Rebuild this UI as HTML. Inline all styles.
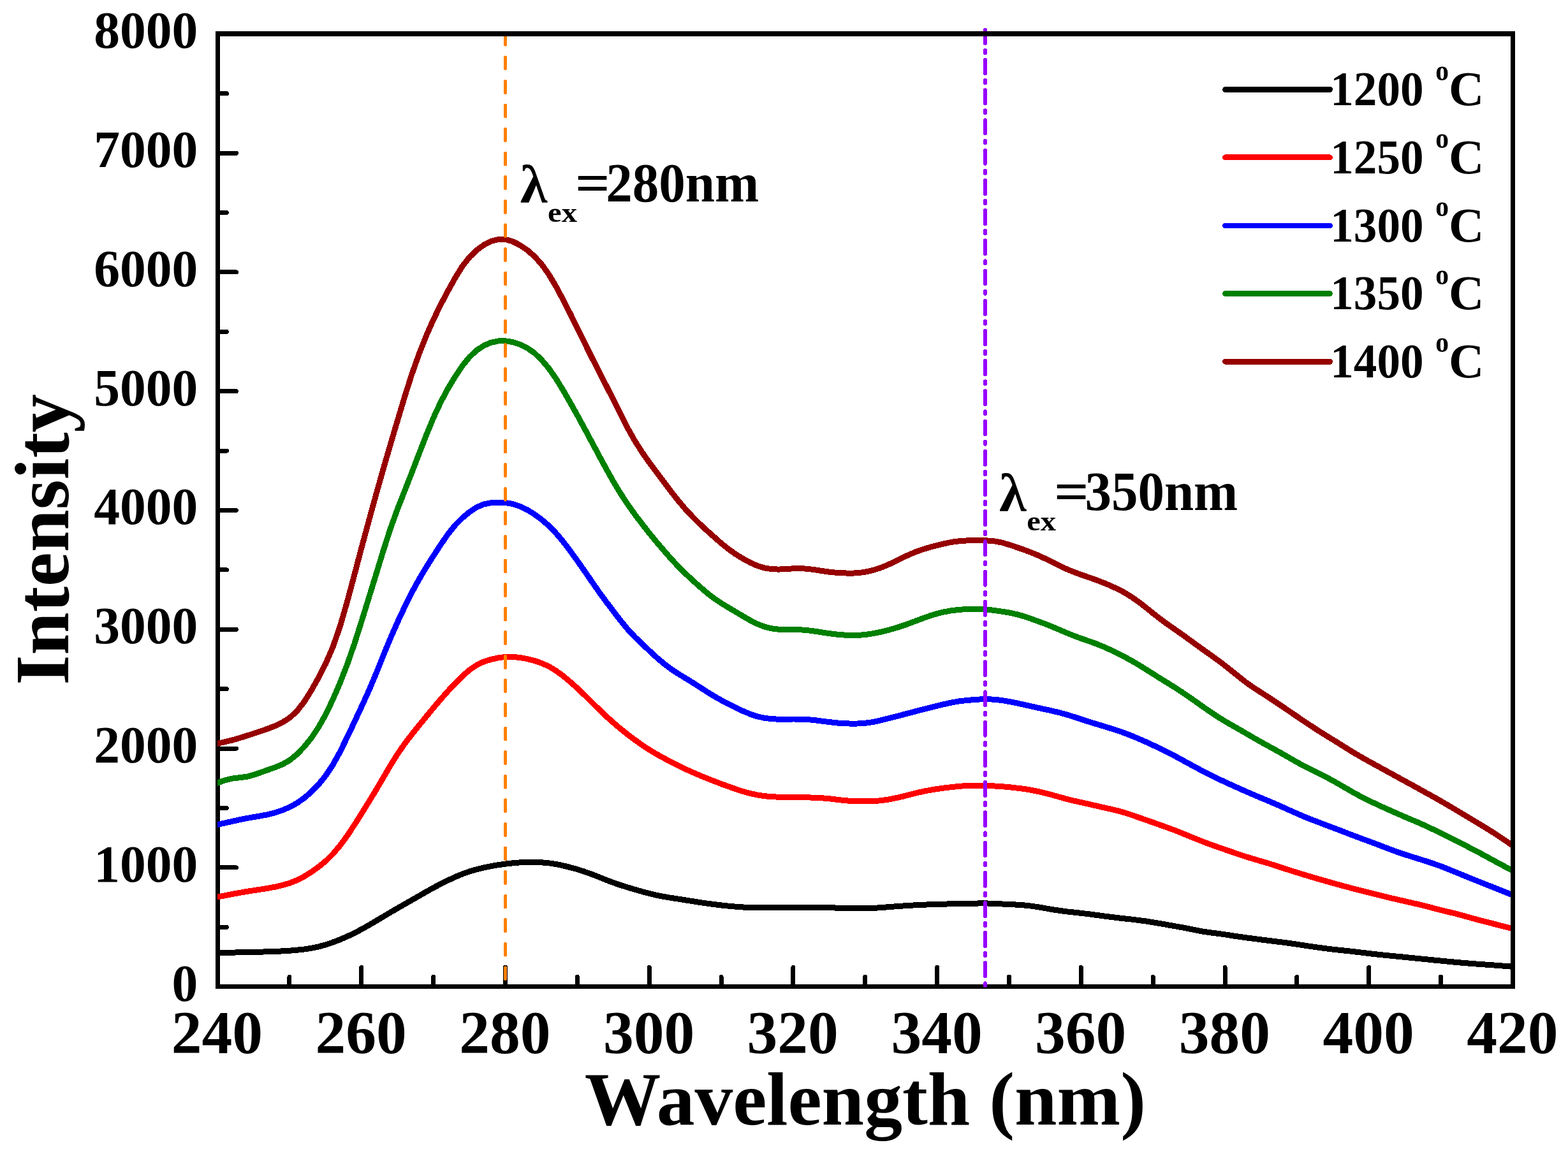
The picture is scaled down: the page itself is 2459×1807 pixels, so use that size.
<!DOCTYPE html>
<html lang="en"><head><meta charset="utf-8"><title>Emission spectra</title>
<style>
html,body{margin:0;padding:0;background:#fff;}
body{width:2459px;height:1807px;overflow:hidden;}
svg{display:block;}
text{font-family:"Liberation Serif",serif;font-weight:bold;fill:#000;}
</style></head><body>
<svg width="2459" height="1807" viewBox="0 0 2459 1807" shape-rendering="crispEdges">
<rect x="0" y="0" width="2459" height="1807" fill="#fff"/>
<path d="M341.45 53.00 V1547.30 H2372.75" fill="none" stroke="#000" stroke-width="6.9" stroke-linecap="square"/>
<path d="M453.95 1547.30 V1532.30 M566.80 1547.30 V1517.40 M679.65 1547.30 V1532.30 M792.50 1547.30 V1517.40 M905.35 1547.30 V1532.30 M1018.20 1547.30 V1517.40 M1131.05 1547.30 V1532.30 M1243.90 1547.30 V1517.40 M1356.75 1547.30 V1532.30 M1469.60 1547.30 V1517.40 M1582.45 1547.30 V1532.30 M1695.30 1547.30 V1517.40 M1808.15 1547.30 V1532.30 M1921.00 1547.30 V1517.40 M2033.85 1547.30 V1532.30 M2146.70 1547.30 V1517.40 M2259.55 1547.30 V1532.30 M341.45 1454.31 H355.35 M341.45 1360.91 H370.35 M341.45 1267.52 H355.35 M341.45 1174.12 H370.35 M341.45 1080.73 H355.35 M341.45 987.34 H370.35 M341.45 893.94 H355.35 M341.45 800.55 H370.35 M341.45 707.16 H355.35 M341.45 613.76 H370.35 M341.45 520.37 H355.35 M341.45 426.98 H370.35 M341.45 333.58 H355.35 M341.45 240.19 H370.35 M341.45 146.79 H355.35" stroke="#000" stroke-width="7.0" stroke-linecap="round" fill="none"/>
<g font-size="95.5" text-anchor="middle">
<text x="340.4" y="1652.4">240</text>
<text x="566.1" y="1652.4">260</text>
<text x="791.8" y="1652.4">280</text>
<text x="1017.5" y="1652.4">300</text>
<text x="1243.2" y="1652.4">320</text>
<text x="1469.0" y="1652.4">340</text>
<text x="1694.7" y="1652.4">360</text>
<text x="1920.4" y="1652.4">380</text>
<text x="2146.0" y="1652.4">400</text>
<text x="2371.8" y="1652.4">420</text>
</g>
<g font-size="81.5" text-anchor="end">
<text x="310.2" y="1569.5">0</text>
<text x="310.2" y="1382.7">1000</text>
<text x="310.2" y="1195.9">2000</text>
<text x="310.2" y="1009.1">3000</text>
<text x="310.2" y="822.4">4000</text>
<text x="310.2" y="635.6">5000</text>
<text x="310.2" y="448.8">6000</text>
<text x="310.2" y="262.0">7000</text>
<text x="310.2" y="75.2">8000</text>
</g>
<text x="1356.8" y="1764.1" font-size="119.6" text-anchor="middle">Wavelength (nm)</text>
<text transform="translate(107,846.2) rotate(-90)" font-size="120.8" text-anchor="middle">Intensity</text>
<clipPath id="pc"><rect x="341.05" y="53.0" width="2031.30" height="1494.3"/></clipPath>
<g clip-path="url(#pc)" fill="none" stroke-width="9.0" stroke-linejoin="round">
<path d="M330.2 1494.7 L341.4 1494.5 L352.7 1494.3 L364.0 1494.1 L375.3 1493.9 L386.6 1493.6 L397.9 1493.4 L409.2 1493.1 L420.4 1492.8 L431.7 1492.4 L443.0 1491.9 L454.3 1491.2 L465.6 1490.2 L476.9 1489.0 L488.2 1487.3 L499.4 1485.0 L510.7 1481.9 L522.0 1478.1 L533.3 1473.8 L544.6 1468.9 L555.9 1463.5 L567.1 1457.6 L578.4 1451.3 L589.7 1444.6 L601.0 1437.9 L612.3 1431.1 L623.6 1424.5 L634.9 1418.1 L646.1 1411.7 L657.4 1405.2 L668.7 1398.7 L680.0 1392.4 L691.3 1386.4 L702.6 1380.9 L713.9 1375.6 L725.1 1370.9 L736.4 1366.9 L747.7 1363.6 L759.0 1360.9 L770.3 1358.6 L781.6 1356.7 L792.8 1355.1 L804.1 1353.8 L815.4 1352.9 L826.7 1352.5 L838.0 1352.4 L849.3 1352.8 L860.6 1353.8 L871.8 1355.5 L883.1 1357.8 L894.4 1360.6 L905.7 1363.7 L917.0 1367.4 L928.3 1371.4 L939.6 1375.8 L950.8 1380.3 L962.1 1384.6 L973.4 1388.5 L984.7 1392.0 L996.0 1395.4 L1007.3 1398.6 L1018.5 1401.6 L1029.8 1404.3 L1041.1 1406.5 L1052.4 1408.4 L1063.7 1410.1 L1075.0 1411.9 L1086.3 1413.7 L1097.5 1415.5 L1108.8 1417.1 L1120.1 1418.6 L1131.4 1420.0 L1142.7 1421.2 L1154.0 1422.2 L1165.3 1423.0 L1176.5 1423.6 L1187.8 1423.9 L1199.1 1424.0 L1210.4 1423.9 L1221.7 1423.7 L1233.0 1423.5 L1244.2 1423.3 L1255.5 1423.2 L1266.8 1423.2 L1278.1 1423.3 L1289.4 1423.5 L1300.7 1423.7 L1312.0 1424.1 L1323.2 1424.5 L1334.5 1424.8 L1345.8 1424.9 L1357.1 1424.8 L1368.4 1424.5 L1379.7 1423.8 L1391.0 1422.9 L1402.2 1422.0 L1413.5 1421.2 L1424.8 1420.4 L1436.1 1419.8 L1447.4 1419.2 L1458.7 1418.8 L1470.0 1418.4 L1481.2 1418.1 L1492.5 1417.8 L1503.8 1417.6 L1515.1 1417.4 L1526.4 1417.2 L1537.7 1416.9 L1548.9 1417.0 L1560.2 1417.4 L1571.5 1418.0 L1582.8 1418.5 L1594.1 1419.1 L1605.4 1419.9 L1616.7 1421.1 L1627.9 1422.7 L1639.2 1424.7 L1650.5 1426.7 L1661.8 1428.4 L1673.1 1429.9 L1684.4 1431.1 L1695.7 1432.4 L1706.9 1433.7 L1718.2 1435.2 L1729.5 1436.7 L1740.8 1438.2 L1752.1 1439.6 L1763.4 1440.9 L1774.6 1442.1 L1785.9 1443.5 L1797.2 1445.0 L1808.5 1446.8 L1819.8 1448.7 L1831.1 1450.7 L1842.4 1452.7 L1853.6 1454.7 L1864.9 1456.9 L1876.2 1459.2 L1887.5 1461.3 L1898.8 1462.9 L1910.1 1464.3 L1921.4 1465.9 L1932.6 1467.7 L1943.9 1469.4 L1955.2 1471.0 L1966.5 1472.4 L1977.8 1473.9 L1989.1 1475.3 L2000.3 1476.7 L2011.6 1478.1 L2022.9 1479.6 L2034.2 1481.3 L2045.5 1483.0 L2056.8 1484.7 L2068.1 1486.3 L2079.3 1487.8 L2090.6 1489.2 L2101.9 1490.4 L2113.2 1491.6 L2124.5 1492.9 L2135.8 1494.2 L2147.0 1495.6 L2158.3 1496.9 L2169.6 1498.1 L2180.9 1499.2 L2192.2 1500.3 L2203.5 1501.4 L2214.8 1502.6 L2226.0 1503.7 L2237.3 1504.8 L2248.6 1506.0 L2259.9 1507.1 L2271.2 1508.2 L2282.5 1509.3 L2293.8 1510.3 L2305.0 1511.2 L2316.3 1512.1 L2327.6 1512.9 L2338.9 1513.7 L2350.2 1514.6 L2361.5 1515.4 L2372.8 1516.4 L2384.0 1517.3" stroke="#000000"/>
<path d="M330.2 1409.1 L341.4 1406.9 L352.7 1404.7 L364.0 1402.5 L375.3 1400.5 L386.6 1398.5 L397.9 1396.7 L409.2 1395.0 L420.4 1393.2 L431.7 1391.1 L443.0 1388.5 L454.3 1385.2 L465.6 1380.7 L476.9 1374.9 L488.2 1367.9 L499.4 1359.9 L510.7 1350.7 L522.0 1339.6 L533.3 1326.2 L544.6 1310.8 L555.9 1293.8 L567.1 1275.9 L578.4 1257.8 L589.7 1239.2 L601.0 1220.0 L612.3 1200.6 L623.6 1182.5 L634.9 1166.3 L646.1 1151.7 L657.4 1137.6 L668.7 1123.7 L680.0 1110.0 L691.3 1096.7 L702.6 1083.9 L713.9 1071.8 L725.1 1060.6 L736.4 1050.8 L747.7 1043.1 L759.0 1037.8 L770.3 1034.3 L781.6 1031.8 L792.8 1030.4 L804.1 1030.4 L815.4 1031.5 L826.7 1033.5 L838.0 1036.3 L849.3 1040.2 L860.6 1045.3 L871.8 1052.0 L883.1 1060.2 L894.4 1069.6 L905.7 1079.8 L917.0 1090.6 L928.3 1101.8 L939.6 1112.9 L950.8 1123.6 L962.1 1133.8 L973.4 1143.3 L984.7 1152.3 L996.0 1160.8 L1007.3 1168.9 L1018.5 1176.2 L1029.8 1183.0 L1041.1 1189.2 L1052.4 1195.2 L1063.7 1200.9 L1075.0 1206.4 L1086.3 1211.5 L1097.5 1216.3 L1108.8 1221.0 L1120.1 1225.4 L1131.4 1229.7 L1142.7 1233.8 L1154.0 1237.8 L1165.3 1241.5 L1176.5 1244.6 L1187.8 1247.0 L1199.1 1248.7 L1210.4 1249.7 L1221.7 1250.2 L1233.0 1250.4 L1244.2 1250.5 L1255.5 1250.7 L1266.8 1250.9 L1278.1 1251.2 L1289.4 1251.8 L1300.7 1252.8 L1312.0 1254.2 L1323.2 1255.5 L1334.5 1256.4 L1345.8 1256.8 L1357.1 1256.9 L1368.4 1256.7 L1379.7 1255.9 L1391.0 1254.4 L1402.2 1252.4 L1413.5 1249.9 L1424.8 1247.0 L1436.1 1244.1 L1447.4 1241.5 L1458.7 1239.3 L1470.0 1237.5 L1481.2 1235.9 L1492.5 1234.6 L1503.8 1233.4 L1515.1 1232.5 L1526.4 1232.0 L1537.7 1232.0 L1548.9 1232.4 L1560.2 1233.0 L1571.5 1233.7 L1582.8 1234.7 L1594.1 1236.0 L1605.4 1237.4 L1616.7 1239.2 L1627.9 1241.4 L1639.2 1244.1 L1650.5 1247.1 L1661.8 1250.3 L1673.1 1253.4 L1684.4 1256.2 L1695.7 1258.7 L1706.9 1261.2 L1718.2 1263.8 L1729.5 1266.4 L1740.8 1268.9 L1752.1 1271.5 L1763.4 1274.7 L1774.6 1278.3 L1785.9 1282.3 L1797.2 1286.2 L1808.5 1290.2 L1819.8 1294.2 L1831.1 1298.2 L1842.4 1302.4 L1853.6 1306.9 L1864.9 1311.5 L1876.2 1316.1 L1887.5 1320.6 L1898.8 1324.8 L1910.1 1328.8 L1921.4 1332.7 L1932.6 1336.6 L1943.9 1340.5 L1955.2 1344.2 L1966.5 1347.6 L1977.8 1350.9 L1989.1 1354.2 L2000.3 1357.8 L2011.6 1361.5 L2022.9 1365.2 L2034.2 1368.7 L2045.5 1372.2 L2056.8 1375.5 L2068.1 1378.9 L2079.3 1382.1 L2090.6 1385.3 L2101.9 1388.4 L2113.2 1391.5 L2124.5 1394.5 L2135.8 1397.4 L2147.0 1400.2 L2158.3 1403.0 L2169.6 1405.8 L2180.9 1408.6 L2192.2 1411.2 L2203.5 1413.8 L2214.8 1416.3 L2226.0 1418.9 L2237.3 1421.7 L2248.6 1424.7 L2259.9 1427.6 L2271.2 1430.3 L2282.5 1433.1 L2293.8 1436.1 L2305.0 1439.2 L2316.3 1442.4 L2327.6 1445.3 L2338.9 1448.2 L2350.2 1451.1 L2361.5 1453.9 L2372.8 1456.8 L2384.0 1459.7" stroke="#ff0000"/>
<path d="M330.2 1296.0 L341.4 1293.4 L352.7 1290.9 L364.0 1288.4 L375.3 1285.9 L386.6 1283.6 L397.9 1281.6 L409.2 1279.7 L420.4 1277.6 L431.7 1274.7 L443.0 1270.8 L454.3 1266.0 L465.6 1259.8 L476.9 1251.9 L488.2 1242.2 L499.4 1230.7 L510.7 1216.8 L522.0 1199.7 L533.3 1179.2 L544.6 1156.2 L555.9 1132.3 L567.1 1108.3 L578.4 1083.5 L589.7 1056.7 L601.0 1028.5 L612.3 1001.1 L623.6 975.5 L634.9 951.4 L646.1 928.9 L657.4 908.3 L668.7 889.3 L680.0 871.5 L691.3 854.1 L702.6 837.7 L713.9 823.7 L725.1 812.4 L736.4 803.0 L747.7 795.6 L759.0 790.8 L770.3 788.6 L781.6 788.0 L792.8 788.6 L804.1 790.5 L815.4 794.2 L826.7 799.6 L838.0 806.6 L849.3 814.9 L860.6 824.6 L871.8 836.1 L883.1 849.5 L894.4 864.4 L905.7 880.0 L917.0 896.1 L928.3 912.6 L939.6 928.8 L950.8 944.1 L962.1 959.0 L973.4 973.7 L984.7 987.4 L996.0 999.4 L1007.3 1010.3 L1018.5 1020.9 L1029.8 1031.3 L1041.1 1040.9 L1052.4 1049.4 L1063.7 1056.9 L1075.0 1063.8 L1086.3 1070.7 L1097.5 1077.9 L1108.8 1085.2 L1120.1 1092.1 L1131.4 1098.5 L1142.7 1104.3 L1154.0 1110.0 L1165.3 1115.4 L1176.5 1120.1 L1187.8 1123.9 L1199.1 1126.3 L1210.4 1127.7 L1221.7 1128.2 L1233.0 1128.2 L1244.2 1128.0 L1255.5 1128.1 L1266.8 1128.6 L1278.1 1129.7 L1289.4 1131.2 L1300.7 1132.6 L1312.0 1133.9 L1323.2 1134.7 L1334.5 1135.1 L1345.8 1135.0 L1357.1 1134.2 L1368.4 1132.7 L1379.7 1130.3 L1391.0 1127.5 L1402.2 1124.6 L1413.5 1121.7 L1424.8 1118.7 L1436.1 1115.7 L1447.4 1112.8 L1458.7 1110.0 L1470.0 1107.1 L1481.2 1104.4 L1492.5 1102.0 L1503.8 1100.0 L1515.1 1098.6 L1526.4 1097.7 L1537.7 1096.9 L1548.9 1096.7 L1560.2 1097.3 L1571.5 1098.6 L1582.8 1100.5 L1594.1 1102.7 L1605.4 1105.3 L1616.7 1107.8 L1627.9 1110.3 L1639.2 1112.7 L1650.5 1115.2 L1661.8 1117.9 L1673.1 1121.0 L1684.4 1124.5 L1695.7 1128.2 L1706.9 1131.9 L1718.2 1135.4 L1729.5 1138.8 L1740.8 1142.2 L1752.1 1145.8 L1763.4 1149.8 L1774.6 1154.1 L1785.9 1158.9 L1797.2 1163.8 L1808.5 1169.0 L1819.8 1174.4 L1831.1 1180.0 L1842.4 1185.8 L1853.6 1191.9 L1864.9 1198.1 L1876.2 1204.2 L1887.5 1210.2 L1898.8 1216.0 L1910.1 1221.5 L1921.4 1226.8 L1932.6 1231.9 L1943.9 1237.0 L1955.2 1242.0 L1966.5 1246.9 L1977.8 1251.6 L1989.1 1256.3 L2000.3 1261.1 L2011.6 1266.1 L2022.9 1271.2 L2034.2 1276.2 L2045.5 1281.1 L2056.8 1285.6 L2068.1 1289.9 L2079.3 1294.2 L2090.6 1298.4 L2101.9 1302.7 L2113.2 1307.1 L2124.5 1311.4 L2135.8 1315.6 L2147.0 1319.7 L2158.3 1323.9 L2169.6 1328.3 L2180.9 1332.6 L2192.2 1336.7 L2203.5 1340.5 L2214.8 1344.1 L2226.0 1347.6 L2237.3 1351.1 L2248.6 1354.9 L2259.9 1358.9 L2271.2 1363.4 L2282.5 1368.0 L2293.8 1372.6 L2305.0 1377.2 L2316.3 1381.7 L2327.6 1386.2 L2338.9 1390.7 L2350.2 1395.2 L2361.5 1399.7 L2372.8 1404.3 L2384.0 1408.8" stroke="#0000ff"/>
<path d="M330.2 1232.1 L341.4 1228.0 L352.7 1223.9 L364.0 1221.1 L375.3 1219.8 L386.6 1218.4 L397.9 1215.5 L409.2 1211.5 L420.4 1207.5 L431.7 1203.6 L443.0 1198.9 L454.3 1192.5 L465.6 1183.3 L476.9 1171.6 L488.2 1157.7 L499.4 1141.0 L510.7 1120.8 L522.0 1097.2 L533.3 1071.0 L544.6 1042.0 L555.9 1009.6 L567.1 974.3 L578.4 937.8 L589.7 901.2 L601.0 864.2 L612.3 829.1 L623.6 797.9 L634.9 769.3 L646.1 740.6 L657.4 711.1 L668.7 682.1 L680.0 654.8 L691.3 630.5 L702.6 609.4 L713.9 590.6 L725.1 573.8 L736.4 559.9 L747.7 549.4 L759.0 542.0 L770.3 537.2 L781.6 534.9 L792.8 534.8 L804.1 536.6 L815.4 540.2 L826.7 545.8 L838.0 553.6 L849.3 564.3 L860.6 577.7 L871.8 593.7 L883.1 612.1 L894.4 631.8 L905.7 651.9 L917.0 672.7 L928.3 693.8 L939.6 714.9 L950.8 735.6 L962.1 755.7 L973.4 774.4 L984.7 791.6 L996.0 807.4 L1007.3 822.3 L1018.5 836.6 L1029.8 850.3 L1041.1 863.6 L1052.4 876.4 L1063.7 888.6 L1075.0 899.8 L1086.3 910.3 L1097.5 920.4 L1108.8 930.1 L1120.1 938.7 L1131.4 946.3 L1142.7 953.2 L1154.0 959.9 L1165.3 966.6 L1176.5 973.1 L1187.8 978.8 L1199.1 983.1 L1210.4 985.9 L1221.7 987.3 L1233.0 987.6 L1244.2 987.5 L1255.5 987.8 L1266.8 988.7 L1278.1 990.2 L1289.4 992.0 L1300.7 993.7 L1312.0 995.1 L1323.2 996.0 L1334.5 996.5 L1345.8 996.4 L1357.1 995.5 L1368.4 993.8 L1379.7 991.6 L1391.0 988.9 L1402.2 985.8 L1413.5 982.2 L1424.8 978.3 L1436.1 974.0 L1447.4 969.8 L1458.7 965.8 L1470.0 962.4 L1481.2 959.7 L1492.5 957.7 L1503.8 956.4 L1515.1 955.6 L1526.4 955.2 L1537.7 955.3 L1548.9 956.2 L1560.2 957.6 L1571.5 959.2 L1582.8 961.0 L1594.1 963.5 L1605.4 966.7 L1616.7 970.5 L1627.9 974.5 L1639.2 978.7 L1650.5 983.2 L1661.8 988.0 L1673.1 992.8 L1684.4 997.4 L1695.7 1001.6 L1706.9 1005.4 L1718.2 1009.4 L1729.5 1014.0 L1740.8 1019.1 L1752.1 1024.5 L1763.4 1030.3 L1774.6 1036.4 L1785.9 1043.0 L1797.2 1050.0 L1808.5 1057.1 L1819.8 1064.3 L1831.1 1071.3 L1842.4 1078.3 L1853.6 1085.6 L1864.9 1093.3 L1876.2 1101.2 L1887.5 1109.3 L1898.8 1117.1 L1910.1 1124.6 L1921.4 1131.5 L1932.6 1138.0 L1943.9 1144.4 L1955.2 1151.0 L1966.5 1157.6 L1977.8 1164.0 L1989.1 1170.2 L2000.3 1176.4 L2011.6 1182.7 L2022.9 1189.2 L2034.2 1195.7 L2045.5 1201.9 L2056.8 1207.6 L2068.1 1213.0 L2079.3 1218.7 L2090.6 1224.8 L2101.9 1231.2 L2113.2 1237.8 L2124.5 1244.3 L2135.8 1250.3 L2147.0 1256.0 L2158.3 1261.3 L2169.6 1266.5 L2180.9 1271.6 L2192.2 1276.6 L2203.5 1281.5 L2214.8 1286.3 L2226.0 1291.0 L2237.3 1296.1 L2248.6 1301.5 L2259.9 1307.1 L2271.2 1312.7 L2282.5 1318.4 L2293.8 1324.0 L2305.0 1329.8 L2316.3 1335.6 L2327.6 1341.7 L2338.9 1347.9 L2350.2 1354.0 L2361.5 1360.1 L2372.8 1366.1 L2384.0 1372.1" stroke="#008000"/>
<path d="M330.2 1168.5 L341.4 1166.2 L352.7 1163.8 L364.0 1161.0 L375.3 1157.8 L386.6 1154.2 L397.9 1150.5 L409.2 1146.8 L420.4 1142.9 L431.7 1138.5 L443.0 1133.2 L454.3 1125.9 L465.6 1115.5 L476.9 1101.0 L488.2 1083.1 L499.4 1063.1 L510.7 1041.1 L522.0 1014.9 L533.3 982.4 L544.6 943.5 L555.9 901.2 L567.1 858.7 L578.4 817.0 L589.7 776.0 L601.0 735.9 L612.3 697.2 L623.6 658.9 L634.9 621.4 L646.1 586.3 L657.4 554.6 L668.7 526.2 L680.0 500.7 L691.3 477.6 L702.6 456.2 L713.9 435.8 L725.1 417.6 L736.4 403.2 L747.7 392.3 L759.0 384.1 L770.3 378.4 L781.6 375.4 L792.8 375.5 L804.1 378.8 L815.4 384.5 L826.7 392.1 L838.0 402.0 L849.3 414.5 L860.6 430.2 L871.8 449.1 L883.1 470.2 L894.4 492.3 L905.7 515.2 L917.0 538.4 L928.3 561.1 L939.6 583.2 L950.8 605.1 L962.1 627.5 L973.4 650.2 L984.7 672.2 L996.0 692.2 L1007.3 709.9 L1018.5 725.9 L1029.8 741.0 L1041.1 756.1 L1052.4 771.1 L1063.7 785.4 L1075.0 798.7 L1086.3 810.8 L1097.5 821.9 L1108.8 832.4 L1120.1 842.5 L1131.4 852.4 L1142.7 861.5 L1154.0 869.5 L1165.3 876.4 L1176.5 882.5 L1187.8 887.5 L1199.1 890.9 L1210.4 892.7 L1221.7 893.1 L1233.0 892.5 L1244.2 891.8 L1255.5 891.6 L1266.8 892.3 L1278.1 893.8 L1289.4 895.6 L1300.7 897.2 L1312.0 898.3 L1323.2 898.9 L1334.5 899.2 L1345.8 898.7 L1357.1 897.2 L1368.4 894.6 L1379.7 891.1 L1391.0 886.6 L1402.2 881.4 L1413.5 875.8 L1424.8 870.4 L1436.1 865.7 L1447.4 861.7 L1458.7 858.3 L1470.0 855.3 L1481.2 852.6 L1492.5 850.3 L1503.8 848.8 L1515.1 848.0 L1526.4 847.6 L1537.7 847.6 L1548.9 848.0 L1560.2 849.0 L1571.5 851.1 L1582.8 854.5 L1594.1 858.3 L1605.4 862.2 L1616.7 866.4 L1627.9 871.1 L1639.2 876.3 L1650.5 881.8 L1661.8 887.5 L1673.1 892.8 L1684.4 897.4 L1695.7 901.6 L1706.9 905.4 L1718.2 909.4 L1729.5 913.7 L1740.8 918.4 L1752.1 923.6 L1763.4 929.5 L1774.6 936.4 L1785.9 944.3 L1797.2 953.0 L1808.5 962.2 L1819.8 971.1 L1831.1 979.3 L1842.4 987.2 L1853.6 995.0 L1864.9 1003.2 L1876.2 1011.4 L1887.5 1019.6 L1898.8 1027.6 L1910.1 1035.8 L1921.4 1044.3 L1932.6 1053.3 L1943.9 1062.4 L1955.2 1071.2 L1966.5 1079.0 L1977.8 1086.3 L1989.1 1093.5 L2000.3 1101.0 L2011.6 1108.6 L2022.9 1116.3 L2034.2 1124.0 L2045.5 1131.6 L2056.8 1139.1 L2068.1 1146.5 L2079.3 1153.5 L2090.6 1160.5 L2101.9 1167.5 L2113.2 1174.6 L2124.5 1181.5 L2135.8 1188.1 L2147.0 1194.4 L2158.3 1200.6 L2169.6 1206.8 L2180.9 1213.0 L2192.2 1219.2 L2203.5 1225.4 L2214.8 1231.6 L2226.0 1237.8 L2237.3 1244.0 L2248.6 1250.3 L2259.9 1256.7 L2271.2 1263.3 L2282.5 1270.0 L2293.8 1276.8 L2305.0 1283.5 L2316.3 1290.3 L2327.6 1297.1 L2338.9 1304.1 L2350.2 1311.4 L2361.5 1319.0 L2372.8 1326.8 L2384.0 1334.6" stroke="#960000"/>
</g>
<line x1="792.55" y1="52.3" x2="792.55" y2="1543.3" stroke="#ff8000" stroke-width="5" stroke-linecap="round" stroke-dasharray="17.8 19.78"/>
<line x1="1545.0" y1="46.8" x2="1545.0" y2="1545.8" stroke="#9600ff" stroke-width="6" stroke-linecap="round" stroke-dasharray="21 11.1 4 11.11"/>
<path d="M2372.75 53.00 V1547.30" fill="none" stroke="#000" stroke-width="6.9" stroke-linecap="square"/>
<rect x="338.00" y="49" width="2038.20" height="7.9" fill="#000"/>
<line x1="1921.5" y1="140.4" x2="2085.6" y2="140.4" stroke="#000000" stroke-width="8.8" stroke-linecap="round"/>
<text transform="translate(2086.30 165.10) scale(0.956 1)" font-size="76.5">1200</text>
<text transform="translate(2251.30 125.50) scale(0.900 1)" font-size="46.2">o</text>
<text transform="translate(2272.00 165.10) scale(1.000 1)" font-size="76.5">C</text>
<line x1="1921.5" y1="246.8" x2="2085.6" y2="246.8" stroke="#ff0000" stroke-width="8.8" stroke-linecap="round"/>
<text transform="translate(2086.30 271.50) scale(0.956 1)" font-size="76.5">1250</text>
<text transform="translate(2251.30 231.90) scale(0.900 1)" font-size="46.2">o</text>
<text transform="translate(2272.00 271.50) scale(1.000 1)" font-size="76.5">C</text>
<line x1="1921.5" y1="354.0" x2="2085.6" y2="354.0" stroke="#0000ff" stroke-width="8.8" stroke-linecap="round"/>
<text transform="translate(2086.30 378.70) scale(0.956 1)" font-size="76.5">1300</text>
<text transform="translate(2251.30 339.10) scale(0.900 1)" font-size="46.2">o</text>
<text transform="translate(2272.00 378.70) scale(1.000 1)" font-size="76.5">C</text>
<line x1="1921.5" y1="460.5" x2="2085.6" y2="460.5" stroke="#008000" stroke-width="8.8" stroke-linecap="round"/>
<text transform="translate(2086.30 485.20) scale(0.956 1)" font-size="76.5">1350</text>
<text transform="translate(2251.30 445.60) scale(0.900 1)" font-size="46.2">o</text>
<text transform="translate(2272.00 485.20) scale(1.000 1)" font-size="76.5">C</text>
<line x1="1921.5" y1="567.3" x2="2085.6" y2="567.3" stroke="#960000" stroke-width="8.8" stroke-linecap="round"/>
<text transform="translate(2086.30 592.00) scale(0.956 1)" font-size="76.5">1400</text>
<text transform="translate(2251.30 552.40) scale(0.900 1)" font-size="46.2">o</text>
<text transform="translate(2272.00 592.00) scale(1.000 1)" font-size="76.5">C</text>
<text transform="translate(815.80 317.70) scale(1.020 1)" font-size="85.0">λ</text><text transform="translate(859.10 348.40) scale(1.120 1)" font-size="43.5">ex</text><text transform="translate(902.00 316.40) scale(1.110 1)" font-size="86.5">=</text><text transform="translate(950.30 316.40) scale(0.960 1)" font-size="86.5">280nm</text>
<text transform="translate(1566.90 801.50) scale(1.020 1)" font-size="85.0">λ</text><text transform="translate(1610.20 832.20) scale(1.120 1)" font-size="43.5">ex</text><text transform="translate(1653.10 800.20) scale(1.110 1)" font-size="86.5">=</text><text transform="translate(1701.40 800.20) scale(0.960 1)" font-size="86.5">350nm</text>
</svg></body></html>
